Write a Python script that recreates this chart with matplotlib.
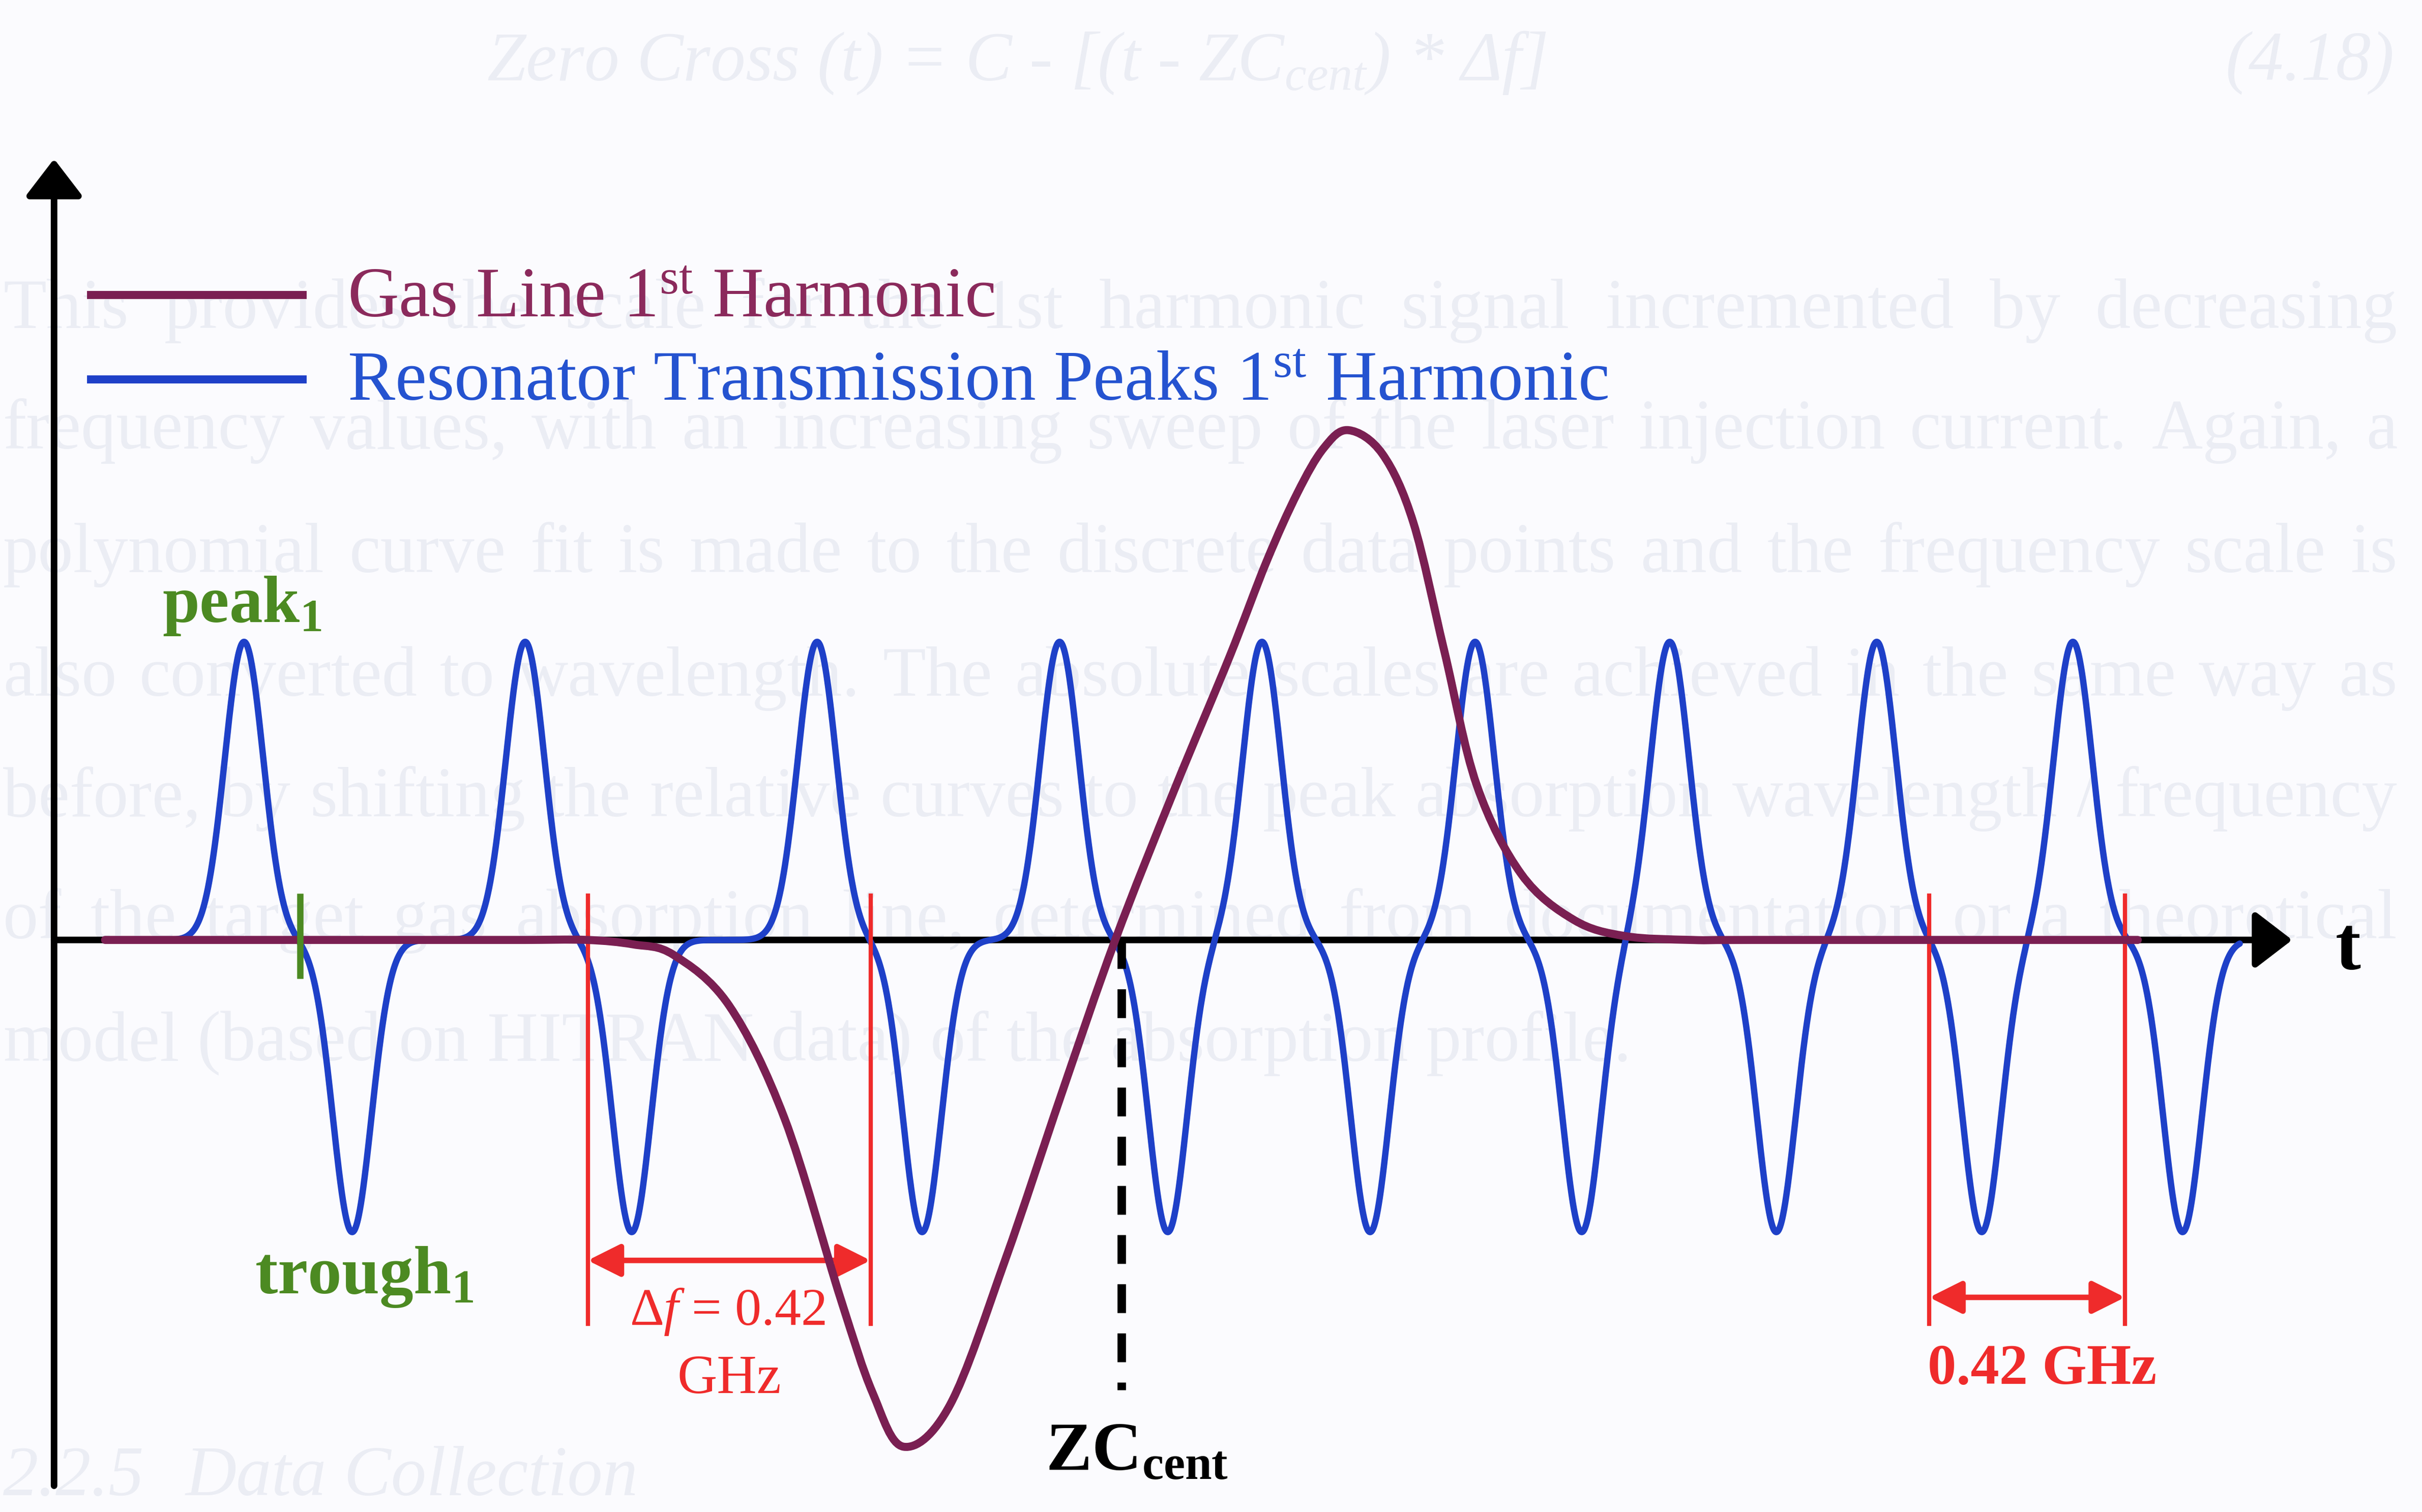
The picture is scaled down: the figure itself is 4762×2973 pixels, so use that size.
import numpy as np
import matplotlib
matplotlib.use("Agg")
import matplotlib.pyplot as plt
from matplotlib.path import Path
from matplotlib.patches import PathPatch, FancyArrowPatch, ArrowStyle

plt.rcParams['font.family'] = ['Liberation Serif', 'DejaVu Serif']
plt.rcParams['mathtext.fontset'] = 'custom'
plt.rcParams['mathtext.rm'] = 'Liberation Serif'
plt.rcParams['mathtext.it'] = 'Liberation Serif:italic'
plt.rcParams['mathtext.bf'] = 'Liberation Serif:bold'

# ---- resonator transmission peaks, 1st harmonic (lobe positions / heights) ----
peak_t = [1.23, 3.05, 4.94, 6.51, 7.82, 9.20, 10.46, 11.80, 13.07]
peak_y = [1.00, 1.00, 1.00, 1.00, 1.00, 1.00, 1.00, 1.00, 1.00]
trough_t = [1.93, 3.74, 5.62, 7.21, 8.52, 9.89, 11.15, 12.48, 13.78]
trough_y = [-0.98, -0.98, -0.98, -0.98, -0.98, -0.98, -0.98, -0.98, -0.98]
lobe_width = 0.125
resonator_span = [0.33, 14.15]

# ---- gas line 1st harmonic (sampled trace) ----
gas_t = [0.33, 2.65, 3.05, 3.45, 3.75, 4.01, 4.37, 4.73, 5.09, 5.30, 5.50,
         5.80, 6.16, 6.52, 6.87, 7.25, 7.61, 7.85, 8.05, 8.22, 8.38, 8.60,
         8.80, 9.00, 9.21, 9.50, 9.84, 10.17, 10.60, 11.00, 13.00, 13.49]
gas_y = [0.0, 0.0, 0.0, 0.0, -0.015, -0.05, -0.22, -0.60, -1.20, -1.52, -1.70,
         -1.56, -1.07, -0.52, 0.0, 0.50, 0.95, 1.27, 1.50, 1.65, 1.71, 1.63,
         1.40, 0.97, 0.52, 0.22, 0.067, 0.013, 0.0, 0.0, 0.0, 0.0]

# ---- annotations ----
zc_cent = 6.91
peak1_marker = 1.593
spacing_pairs = [(3.455, 5.286), (12.14, 13.407)]
spacing_arrow_y = [-1.075, -1.199]

MAROON = '#7a1f52'
MAROON_TXT = '#8b2a5c'
BLUE = '#1e40c8'
BLUE_TXT = '#2553d0'
GREEN = '#4c8a22'
RED = '#ef2b2b'
BG = '#fbfbfe'
GHOST = '#ebedf4'

fig = plt.figure(figsize=(4762 / 300, 2973 / 300), dpi=300, facecolor=BG)
ax = fig.add_axes([0, 0, 1, 1])
ax.set_facecolor(BG)
ax.set_xlim(-0.35, 15.33)
ax.set_ylim(-1.919, 3.153)
ax.axis('off')

# ---- faint body text of the page behind the figure ----
fig.canvas.draw()
renderer = fig.canvas.get_renderer()

ghost_lines = [
    "This provides the scale for the 1st harmonic signal incremented by decreasing",
    "frequency values, with an increasing sweep of the laser injection current.  Again, a",
    "polynomial curve fit is made to the discrete data points and the frequency scale is",
    "also converted to wavelength.  The absolute scales are achieved in the same way as",
    "before, by shifting the relative curves to the peak absorption wavelength / frequency",
    "of the target gas absorption line, determined from documentation or a theoretical",
]
ghost_last = "model (based on HITRAN data) of the absorption profile."
ghost_y = [2.052, 1.648, 1.233, 0.820, 0.415, 0.005]
ghost_left, ghost_right = -0.33, 15.17

# pick a body size that lets the justified lines keep near-normal word spacing
probe = ax.text(0, 0, ghost_lines[2], fontsize=30)
natural = probe.get_window_extent(renderer).width
probe.remove()
span_px = (ax.transData.transform((ghost_right, 0))[0]
           - ax.transData.transform((ghost_left, 0))[0])
ghost_size = min(36.0, 30.0 * span_px * 0.96 / natural)


def place_line(line, y, x0, x1=None, size=30, style='normal'):
    words = line.split()
    texts = [ax.text(0, y, w, fontsize=size, color=GHOST, style=style,
                     va='baseline', ha='left', zorder=0) for w in words]
    widths = [t.get_window_extent(renderer).width for t in texts]
    px0 = ax.transData.transform((x0, y))[0]
    if x1 is not None and len(words) > 1:
        px1 = ax.transData.transform((x1, y))[0]
        gap = (px1 - px0 - sum(widths)) / (len(words) - 1)
    else:
        gap = size * 300 / 72 * 0.25
    pos = px0
    for t, w in zip(texts, widths):
        t.set_x(ax.transData.inverted().transform((pos, 0))[0])
        pos += w + gap


for line, y in zip(ghost_lines, ghost_y):
    place_line(line, y, ghost_left, ghost_right, size=ghost_size)
place_line(ghost_last, -0.405, ghost_left, size=ghost_size)

ax.text(2.80, 2.884, r"Zero Cross (t) = C - [(t - ZC$_{\mathit{cent}}$) * Δf]",
        fontsize=33, style='italic', color=GHOST, va='baseline', zorder=0)
ax.text(15.15, 2.884, "(4.18)", fontsize=33, style='italic', color=GHOST,
        va='baseline', ha='right', zorder=0)
ax.text(-0.33, -1.862, "2.2.5", fontsize=ghost_size, style='italic',
        color=GHOST, va='baseline', ha='left', zorder=0)
ax.text(0.85, -1.862, "Data Collection", fontsize=ghost_size, style='italic',
        color=GHOST, va='baseline', zorder=0)

# ---- axes with arrow heads ----
axis_head = ArrowStyle('-|>', head_length=15, head_width=11.5)
ax.add_patch(FancyArrowPatch((0, -1.831), (0, 2.62), arrowstyle=axis_head,
                             mutation_scale=1, lw=3.1, color='black',
                             shrinkA=0, shrinkB=0, zorder=2))
ax.add_patch(FancyArrowPatch((0, 0), (14.49, 0), arrowstyle=axis_head,
                             mutation_scale=1, lw=3.1, color='black',
                             shrinkA=0, shrinkB=0, zorder=2))

# ---- resonator 1st harmonic ----
tt = np.linspace(resonator_span[0], resonator_span[1], 8000)
res = np.zeros_like(tt)
for c, a in zip(peak_t, peak_y):
    res += a * np.exp(-0.5 * ((tt - c) / lobe_width) ** 2)
for c, a in zip(trough_t, trough_y):
    res += a * np.exp(-0.5 * ((tt - c) / lobe_width) ** 2)
ax.plot(tt, res, color=BLUE, lw=3.0, solid_capstyle='round', zorder=3)

# ---- gas line 1st harmonic, smooth curve through the trace ----
P = np.column_stack([gas_t, gas_y])
verts = [P[0]]
codes = [Path.MOVETO]
n = len(P)
for i in range(n - 1):
    p_prev = P[i - 1] if i > 0 else P[i]
    p_next2 = P[i + 2] if i + 2 < n else P[i + 1]
    c1 = P[i] + (P[i + 1] - p_prev) / 6.0
    c2 = P[i + 1] - (p_next2 - P[i]) / 6.0
    verts += [c1, c2, P[i + 1]]
    codes += [Path.CURVE4] * 3
ax.add_patch(PathPatch(Path(verts, codes), facecolor='none', edgecolor=MAROON,
                       lw=3.8, capstyle='round', joinstyle='round', zorder=5))

# ---- zero crossing centre ----
ax.plot([zc_cent, zc_cent], [0, -1.51], color='black', lw=4,
        linestyle=(0, (3.4, 2.4)), zorder=4)
ax.text(6.42, -1.777, r"ZC$_{\mathbf{cent}}$", fontsize=32.5, fontweight='bold',
        color='black', va='baseline', zorder=7)

# ---- peak / trough markers ----
ax.plot([peak1_marker, peak1_marker], [0.145, -0.12], color=GREEN, lw=3.0,
        zorder=6)
ax.text(0.70, 1.067, r"peak$_{\mathbf{1}}$", fontsize=31.5, fontweight='bold',
        color=GREEN, va='baseline', zorder=7)
ax.text(1.30, -1.185, r"trough$_{\mathbf{1}}$", fontsize=32, fontweight='bold',
        color=GREEN, va='baseline', zorder=7)

# ---- free spectral range markers ----
dim_head = ArrowStyle('<|-|>', head_length=13, head_width=6.5)
for (a, b), ya in zip(spacing_pairs, spacing_arrow_y):
    for x in (a, b):
        ax.plot([x, x], [0.148, -1.288], color=RED, lw=2.0, zorder=4)
    ax.add_patch(FancyArrowPatch((a, ya), (b, ya), arrowstyle=dim_head,
                                 mutation_scale=1, lw=2.6, color=RED,
                                 shrinkA=0, shrinkB=0, zorder=4))
ax.text(4.36, -1.291, r"$\mathit{\Delta f}$ = 0.42", fontsize=25, color=RED,
        ha='center', va='baseline', zorder=4)
ax.text(4.37, -1.52, "GHz", fontsize=26, color=RED, ha='center',
        va='baseline', zorder=4)
ax.text(12.87, -1.489, "0.42 GHz", fontsize=27, fontweight='bold', color=RED,
        ha='center', va='baseline', zorder=4)

# ---- axis label ----
ax.text(14.77, -0.098, "t", fontsize=36, fontweight='bold', color='black',
        va='baseline', zorder=7)

# ---- legend ----
ax.plot([0.24, 1.61], [2.163, 2.163], color=MAROON, lw=3.8, zorder=6)
ax.plot([0.24, 1.61], [1.881, 1.881], color=BLUE, lw=3.8, zorder=6)
ax.text(1.90, 2.091, r"Gas Line 1$^{\mathrm{st}}$ Harmonic", fontsize=33.5,
        color=MAROON_TXT, va='baseline', zorder=7)
ax.text(1.90, 1.811, r"Resonator Transmission Peaks 1$^{\mathrm{st}}$ Harmonic",
        fontsize=33.5, color=BLUE_TXT, va='baseline', zorder=7)

fig.savefig("out.png", dpi=300, facecolor=BG)
